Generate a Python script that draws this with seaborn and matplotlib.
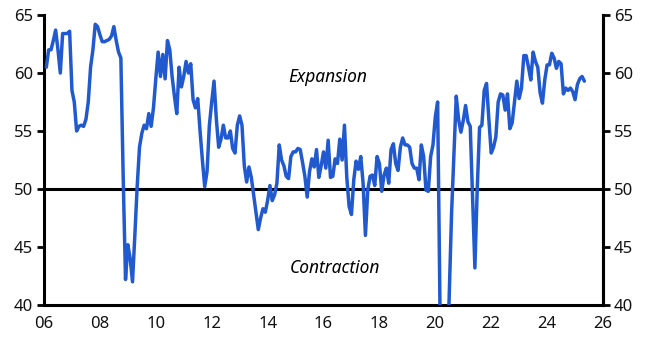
import matplotlib
matplotlib.use("Agg")
import matplotlib.pyplot as plt
import seaborn as sns
import numpy as np
import pandas as pd

# Monthly index values, Jan 2006 .. May 2025 (plotted at month end)
start_year = 2006
values = [
    # 2006
    60.5, 62.0, 62.0, 62.8, 63.7, 62.0, 60.0, 63.4, 63.4, 63.4, 63.6, 58.5,
    # 2007
    57.5, 55.0, 55.4, 55.5, 55.4, 56.0, 57.5, 60.5, 62.0, 64.2, 64.0, 63.3,
    # 2008
    62.7, 62.7, 62.8, 62.9, 63.2, 64.0, 62.8, 61.8, 61.3, 51.0, 42.2, 45.2,
    # 2009
    44.0, 42.0, 46.0, 50.2, 53.6, 54.8, 55.5, 55.2, 56.5, 55.4, 57.0, 59.5,
    # 2010
    61.8, 59.7, 61.6, 59.5, 62.8, 62.0, 59.7, 58.0, 56.5, 60.5, 58.8, 59.7,
    # 2011
    61.0, 60.0, 60.8, 57.7, 57.0, 57.8, 55.0, 52.5, 50.2, 51.5, 55.5, 57.5,
    # 2012
    59.3, 56.0, 53.6, 54.3, 55.5, 54.4, 54.4, 55.0, 53.5, 53.1, 55.5, 56.3,
    # 2013
    55.5, 52.0, 50.6, 51.9, 51.0, 49.5, 48.0, 46.5, 47.5, 48.3, 48.0, 49.0,
    # 2014
    50.3, 49.0, 49.5, 50.5, 53.8, 52.5, 52.0, 51.1, 50.9, 52.8, 53.2, 53.2,
    # 2015
    53.5, 53.4, 52.3, 51.1, 49.3, 51.5, 52.6, 51.9, 53.4, 51.0, 52.0, 53.2,
    # 2016
    51.8, 54.2, 51.0, 51.1, 52.6, 52.2, 54.3, 52.5, 55.5, 51.0, 48.5, 47.8,
    # 2017
    50.8, 52.4, 51.7, 52.8, 50.5, 46.0, 49.9, 51.1, 51.2, 50.3, 52.8, 52.2,
    # 2018
    49.8, 51.2, 51.8, 50.5, 53.4, 53.9, 52.2, 51.6, 53.6, 54.4, 53.8, 53.8,
    # 2019
    53.6, 52.2, 51.8, 51.8, 50.8, 53.8, 52.8, 49.9, 49.8, 52.8, 53.8, 56.2,
    # 2020
    57.5, 40.0, 32.0, 30.0, 34.0, 41.0, 48.0, 53.0, 58.0, 56.0, 54.9, 55.9,
    # 2021
    57.2, 55.8, 55.4, 49.3, 43.2, 50.0, 55.3, 55.5, 58.5, 59.1, 56.0, 53.1,
    # 2022
    53.6, 54.5, 57.5, 58.2, 58.1, 56.8, 58.2, 55.2, 55.7, 57.5, 59.3, 57.8,
    # 2023
    58.7, 61.5, 61.5, 60.5, 59.4, 61.8, 61.0, 60.5, 58.3, 57.4, 59.4, 60.7,
    # 2024
    60.7, 61.7, 61.3, 60.4, 61.0, 60.8, 58.2, 58.7, 58.5, 58.7, 58.4, 57.7,
    # 2025
    59.0, 59.5, 59.7, 59.3,
]
month_index = np.arange(1, len(values) + 1)
dates = start_year + month_index / 12.0

y_ticks = [40, 45, 50, 55, 60, 65]
x_ticks = list(range(2006, 2027, 2))
x_labels = [f"{y % 100:02d}" for y in x_ticks]
labels = {"Expansion": (2016.15, 59.65), "Contraction": (2016.4, 43.2)}

df = pd.DataFrame({"date": dates, "value": values})

sns.set_style("white")
plt.rcParams["font.family"] = ["Noto Sans", "DejaVu Sans"]

fig = plt.figure(figsize=(6.55, 3.53), dpi=100)
ax = fig.add_axes([44 / 655, 1 - 305 / 353, (603 - 44) / 655, (305 - 15) / 353])

ax.axhline(50, color="black", lw=2.2, zorder=1)
sns.lineplot(data=df, x="date", y="value", ax=ax, color="#2159CF", lw=2.5, zorder=3)

ax.set_xlim(2006, 2026)
ax.set_ylim(40, 65)
ax.set_xticks(x_ticks)
ax.set_xticklabels(x_labels)
ax.set_yticks(y_ticks)
ax.set_xlabel("")
ax.set_ylabel("")

ax2 = ax.twinx()
ax2.set_ylim(40, 65)
ax2.set_yticks(y_ticks)

for a in (ax, ax2):
    for s in a.spines.values():
        s.set_color("black")
        s.set_linewidth(2.2)
    a.spines["top"].set_visible(False)
    a.tick_params(axis="both", which="both", direction="out", length=5, width=2,
                  color="black", labelsize=12, labelcolor="#111111", pad=3)
ax2.spines["left"].set_visible(False)
ax2.spines["bottom"].set_visible(False)
ax.tick_params(axis="y", left=True)
ax2.tick_params(axis="y", right=True)

for txt, (xx, yy) in labels.items():
    ax.text(xx, yy, txt, ha="center", va="center", fontsize=12.5, style="italic", color="black")

fig.savefig("out.png", dpi=100)
